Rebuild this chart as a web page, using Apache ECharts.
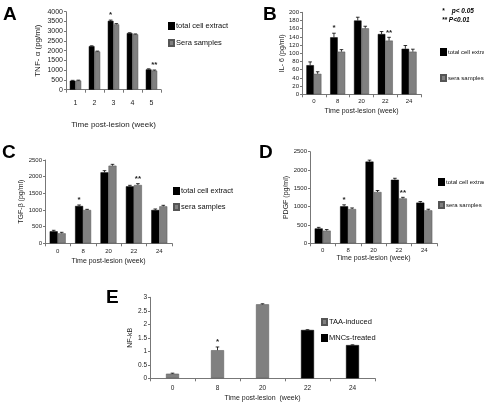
<!DOCTYPE html>
<html><head><meta charset="utf-8">
<script src="https://cdn.jsdelivr.net/npm/echarts@6/dist/echarts.min.js"></script>
<style>html,body{margin:0;padding:0;background:#fff}#c{width:484px;height:407px}</style>
</head><body><div id="c"></div>
<script>
// ---------- data ----------
const catsA = ['1','2','3','4','5'];
const catsWeeks = ['0','8','20','22','24'];

const aTotal = [460, 2230, 3530, 2900, 1040];
const aSera  = [470, 1960, 3350, 2840, 980];
const aTotalErr = [20, 20, 40, 20, 30];
const aSeraErr  = [20, 20, 40, 20, 30];
const aTotalSig = ['', '', '*', '', ''];
const aSeraSig  = ['', '', '', '', '**'];

const bTotal = [71, 139, 180, 147, 111];
const bSera  = [50, 104, 161, 131, 104];
const bTotalErr = [8, 10, 8, 6, 8];
const bSeraErr  = [5, 5, 5, 8, 6];
const bTotalSig = ['', '*', '', '', ''];
const bSeraSig  = ['', '', '', '**', ''];

const cTotal = [360, 1120, 2130, 1710, 1000];
const cSera  = [300, 1000, 2330, 1750, 1110];
const cTotalErr = [30, 30, 50, 30, 30];
const cSeraErr  = [30, 20, 40, 40, 30];
const cTotalSig = ['', '*', '', '', ''];
const cSeraSig  = ['', '', '', '**', ''];

const dTotal = [405, 1010, 2230, 1735, 1110];
const dSera  = [345, 935, 1400, 1225, 900];
const dTotalErr = [30, 40, 40, 40, 30];
const dSeraErr  = [30, 30, 40, 30, 30];
const dTotalSig = ['', '*', '', '', ''];
const dSeraSig  = ['', '', '', '**', ''];

const eTAA  = [0.17, 1.04, 2.74, null, null];
const eMNC  = [null, null, null, 1.79, 1.23];
const eTAAErr = [0.02, 0.12, 0.02, 0, 0];
const eMNCErr = [0, 0, 0, 0.01, 0.01];
const eTAASig = ['', '*', '', '', ''];
const eMNCSig = ['', '', '', '', ''];

// ---------- styling ----------
const FONT = '"Liberation Sans", Arial, sans-serif';
const BLACK = '#000000';
const GREY = '#808080';
const axisLineColor = '#777';

const panels = [
  {id:'A', grid:{left:66, top:11.7, width:95, height:78}, cats:catsA, max:4000, interval:500,
   yName:'TNF- α (pg/ml)', yGap:24, yNameSize:8, xName:'Time post-lesion (week)', xGap:31, xNameSize:8, tickSize:7, labelMargin:10,
   barW:5.7,
   series:[['total cell extract', aTotal, aTotalErr, aTotalSig, BLACK], ['Sera samples', aSera, aSeraErr, aSeraSig, GREY]],
   legend:{left:168, top:22, gap:9, size:7.5}},
  {id:'B', grid:{left:302, top:12.3, width:119, height:82}, cats:catsWeeks, max:200, interval:20,
   yName:'IL- 6 (pg/ml)', yGap:13, yNameSize:7, xName:'Time post-lesion (week)', xGap:13, xNameSize:7, tickSize:6, labelMargin:4,
   barW:7.5,
   series:[['total cell extract', bTotal, bTotalErr, bTotalSig, BLACK], ['sera samples', bSera, bSeraErr, bSeraSig, GREY]],
   legend:{left:440, top:48, gap:18, size:6}},
  {id:'C', grid:{left:45, top:160, width:127, height:83.3}, cats:catsWeeks, max:2500, interval:500,
   yName:'TGF-β (pg/ml)', yGap:12, yNameSize:7, xName:'Time post-lesion (week)', xGap:14, xNameSize:7, tickSize:6, labelMargin:5,
   barW:8,
   series:[['total cell extract', cTotal, cTotalErr, cTotalSig, BLACK], ['sera samples', cSera, cSeraErr, cSeraSig, GREY]],
   legend:{left:173, top:187, gap:8, size:7.5}},
  {id:'D', grid:{left:310, top:151.7, width:127, height:91.6}, cats:catsWeeks, max:2500, interval:500,
   yName:'PDGF (pg/ml)', yGap:12, yNameSize:7, xName:'Time post-lesion (week)', xGap:10, xNameSize:7, tickSize:6, labelMargin:4,
   barW:8,
   series:[['total cell extract', dTotal, dTotalErr, dTotalSig, BLACK], ['sera samples', dSera, dSeraErr, dSeraSig, GREY]],
   legend:{left:438, top:178, gap:15, size:6}},
  {id:'E', grid:{left:150, top:297.3, width:225, height:81}, cats:catsWeeks, max:3, interval:0.5,
   yName:'NF-kB', yGap:16, yNameSize:7, xName:'Time post-lesion  (week)', xGap:16, xNameSize:7, tickSize:6.5, labelMargin:6,
   barW:13, stacked:true,
   series:[['TAA-induced', eTAA, eTAAErr, eTAASig, GREY], ['MNCs-treated', eMNC, eMNCErr, eMNCSig, BLACK]],
   legend:{left:321, top:318, gap:8, size:7.5}}
];

const grids = [], xAxes = [], yAxes = [], series = [], legends = [], graphics = [];

panels.forEach((p, i) => {
  grids.push(Object.assign({containLabel:false}, p.grid));
  xAxes.push({type:'category', gridIndex:i, data:p.cats,
    axisLine:{lineStyle:{color:axisLineColor, width:1}},
    axisTick:{show:true, length:3, lineStyle:{color:axisLineColor}},
    axisLabel:{fontSize:p.tickSize, color:'#222', fontFamily:FONT, margin:p.labelMargin},
    name:p.xName, nameLocation:'middle', nameGap:p.xGap,
    nameTextStyle:{fontSize:p.xNameSize, color:'#222', fontFamily:FONT}});
  yAxes.push({type:'value', gridIndex:i, min:0, max:p.max, interval:p.interval,
    axisLine:{show:true, lineStyle:{color:axisLineColor, width:1}},
    axisTick:{show:true, length:2, lineStyle:{color:axisLineColor}},
    splitLine:{show:false},
    axisLabel:{fontSize:p.tickSize, color:'#222', fontFamily:FONT, margin:3, formatter:v => String(v)},
    name:p.yName, nameLocation:'middle', nameGap:p.yGap, nameRotate:90,
    nameTextStyle:{fontSize:p.yNameSize, color:'#222', fontFamily:FONT}});

  const nS = p.series.length;
  p.series.forEach((s, k) => {
    const [name, vals, errs, sigs, color] = s;
    series.push({type:'bar', name:name, xAxisIndex:i, yAxisIndex:i, data:vals,
      barWidth:p.barW, barGap:'0%', stack:p.stacked ? 'e' : undefined,
      itemStyle:{color:color, borderColor:color === GREY ? '#555' : '#000', borderWidth:0.5},
      emphasis:{disabled:true}, animation:false});
    const offset = p.stacked ? 0 : (k - (nS - 1) / 2) * p.barW;
    const edata = vals.map((v, j) => v == null ? null : [j, v, errs[j], sigs[j]]).filter(d => d);
    series.push({type:'custom', xAxisIndex:i, yAxisIndex:i, data:edata, silent:true, animation:false, z:5,
      renderItem:(params, api) => {
        const cx = api.value(0), v = api.value(1), e = api.value(2);
        const sig = edata[params.dataIndex][3];
        const top = api.coord([cx, v + e]);
        const base = api.coord([cx, v]);
        const x = top[0] + offset;
        const children = [];
        if (e > 0) {
          children.push({type:'line', shape:{x1:x, y1:base[1], x2:x, y2:top[1]}, style:{stroke:'#000', lineWidth:0.8}});
          children.push({type:'line', shape:{x1:x-1.8, y1:top[1], x2:x+1.8, y2:top[1]}, style:{stroke:'#000', lineWidth:0.8}});
        }
        if (sig) {
          children.push({type:'text', x:x, y:top[1] - 1,
            style:{text:sig, fill:'#222', font:'bold 8px ' + FONT, align:'center', verticalAlign:'bottom'}});
        }
        return {type:'group', children:children};
      }});
  });

  legends.push({orient:'vertical', left:p.legend.left, top:p.legend.top, itemGap:p.legend.gap,
    itemWidth:5, itemHeight:6, data:p.series.map(s => ({name:s[0], icon:'rect'})),
    textStyle:{fontSize:p.legend.size, color:'#111', fontFamily:FONT, padding:[0,0,0,-3]}, selectedMode:false, padding:0});
});

// panel letters
[['A',3,5],['B',263,5],['C',2,143],['D',259,143],['E',106,288]].forEach(l => {
  graphics.push({type:'text', left:l[1], top:l[2], style:{text:l[0], font:'bold 19px ' + FONT, fill:'#000'}});
});
// significance key in panel B
graphics.push({type:'text', left:442, top:8, style:{text:'*    p< 0.05', font:'italic bold 6.5px ' + FONT, fill:'#000'}});
graphics.push({type:'text', left:442, top:17, style:{text:'** P<0.01', font:'italic bold 6.5px ' + FONT, fill:'#000'}});

const chart = echarts.init(document.getElementById('c'), null, {renderer:'canvas'});
chart.setOption({animation:false, backgroundColor:'#fff', grid:grids, xAxis:xAxes, yAxis:yAxes,
  series:series, legend:legends, graphic:graphics});
</script></body></html>
